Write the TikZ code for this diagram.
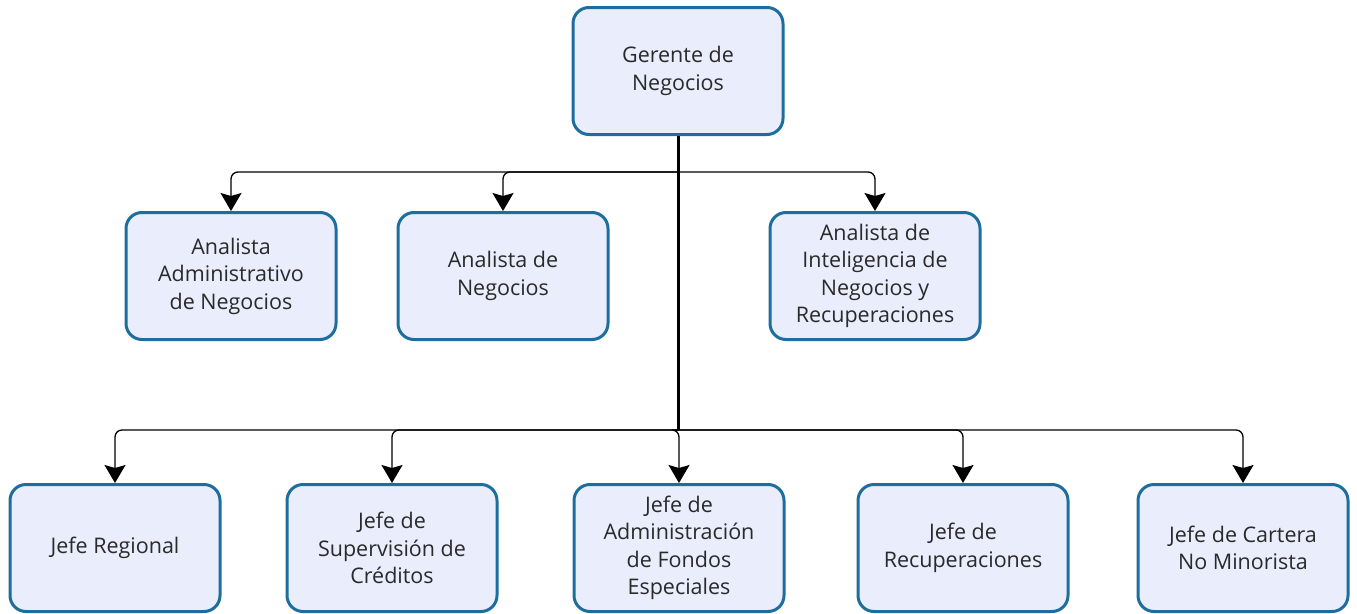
\documentclass[tikz,border=0pt]{standalone}
\usepackage{fontspec}
\setmainfont{Open Sans}
\usetikzlibrary{arrows.meta}

\definecolor{boxline}{HTML}{1D6E9E}
\definecolor{boxfill}{HTML}{E9EDFC}
\definecolor{boxtext}{HTML}{2A2A2A}

\tikzset{
  puesto/.style={draw=boxline, fill=boxfill, line width=3pt, rounded corners=16pt,
    minimum width=210pt, minimum height=127pt, align=center, text=boxtext,
    font=\fontsize{21.5}{27.5}\selectfont},
  tronco/.style={line width=3pt},
  rama/.style={line width=1.3pt, rounded corners=7pt,
    -{Stealth[width=21pt,length=18pt,inset=3pt]}}
}

\begin{document}
\begin{tikzpicture}[x=1pt, y=-1pt]
    \useasboundingbox (0,0) rectangle (1357,613);
    % jefatura
    \node[puesto] (ger) at (678,71) {Gerente de\\Negocios};
    % analistas
    \node[puesto] (aad) at (231,276) {Analista\\Administrativo\\de Negocios};
    \node[puesto] (ane) at (503,276) {Analista de\\Negocios};
    \node[puesto] (ain) at (875,276) {Analista de\\Inteligencia de\\Negocios y\\Recuperaciones};
    % jefes
    \node[puesto] (jre) at (115,548) {Jefe Regional};
    \node[puesto] (jsc) at (392,548) {Jefe de\\Supervisión de\\Créditos};
    \node[puesto] (jaf) at (679,548) {Jefe de\\Administración\\de Fondos\\Especiales};
    \node[puesto] (jrc) at (963,548) {Jefe de\\Recuperaciones};
    \node[puesto] (jcm) at (1243,548) {Jefe de Cartera\\No Minorista};
    % lineas
    \coordinate (b1) at (ger.south |- 0,172);
    \coordinate (b2) at (ger.south |- 0,430);
    \draw[tronco] (ger.south) -- (b2);
    \foreach \n in {aad,ane,ain}
      \draw[rama] (b1) -| (\n.north);
    \foreach \n in {jre,jsc,jaf,jrc,jcm}
      \draw[rama] (b2) -| (\n.north);
\end{tikzpicture}
\end{document}
